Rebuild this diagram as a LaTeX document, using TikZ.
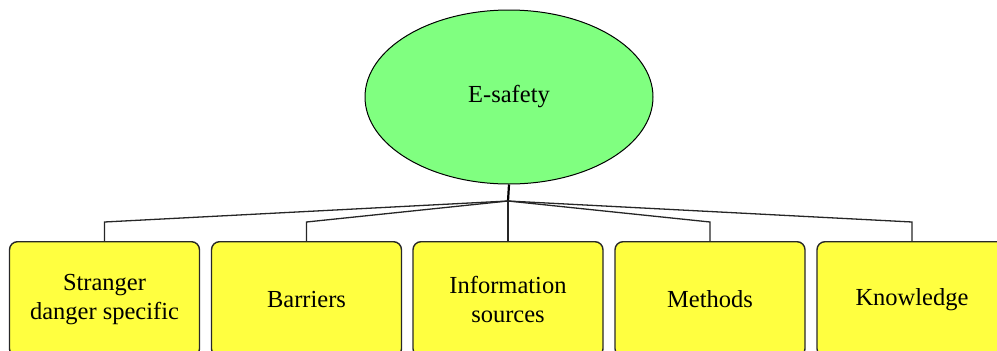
\documentclass[tikz,border=0pt]{standalone}
\usepackage{fontspec}
\setmainfont{Liberation Serif}
\usetikzlibrary{shapes.geometric}
\definecolor{egreen}{RGB}{128,255,128}
\definecolor{eyellow}{RGB}{255,255,64}
\definecolor{eborder}{RGB}{40,40,40}
\begin{document}
\begin{tikzpicture}[x=1pt,y=-1pt,
  topic/.style={ellipse,draw=black,line width=1pt,fill=egreen,minimum width=288pt,minimum height=174pt,inner sep=0pt,font=\fontsize{24.5}{29}\selectfont},
  leaf/.style={rectangle,rounded corners=8pt,draw=eborder,line width=1.4pt,fill=eyellow,minimum width=190pt,minimum height=115pt,anchor=north,align=center,inner sep=0pt,font=\fontsize{24.5}{29}\selectfont},
  conn/.style={draw=black!85,line width=1.3pt},
  stem/.style={draw=black,line width=2.2pt}]
\useasboundingbox (0,0) rectangle (997,351);
\clip (0,0) rectangle (997,351);
\node[topic] (e) at (509,97) {E-safety};
\coordinate (j) at (508,201);
\node[leaf] (b1) at (104.5,241) {Stranger\\danger specific};
\node[leaf] (b2) at (306.5,241) {Barriers};
\node[leaf] (b3) at (508,241) {Information\\sources};
\node[leaf] (b4) at (710,241) {Methods};
\node[leaf] (b5) at (912,241) {Knowledge};
\coordinate (k1) at (104.5,222);
\coordinate (k2) at (306.5,222);
\coordinate (k4) at (710,222);
\coordinate (k5) at (912,222);
\draw[stem] (e.south) -- (j);
\draw[conn] (j) -- (k1) -- (b1.north);
\draw[conn] (j) -- (k2) -- (b2.north);
\draw[conn] (j) -- (b3.north);
\draw[conn] (j) -- (k4) -- (b4.north);
\draw[conn] (j) -- (k5) -- (b5.north);
\end{tikzpicture}
\end{document}
